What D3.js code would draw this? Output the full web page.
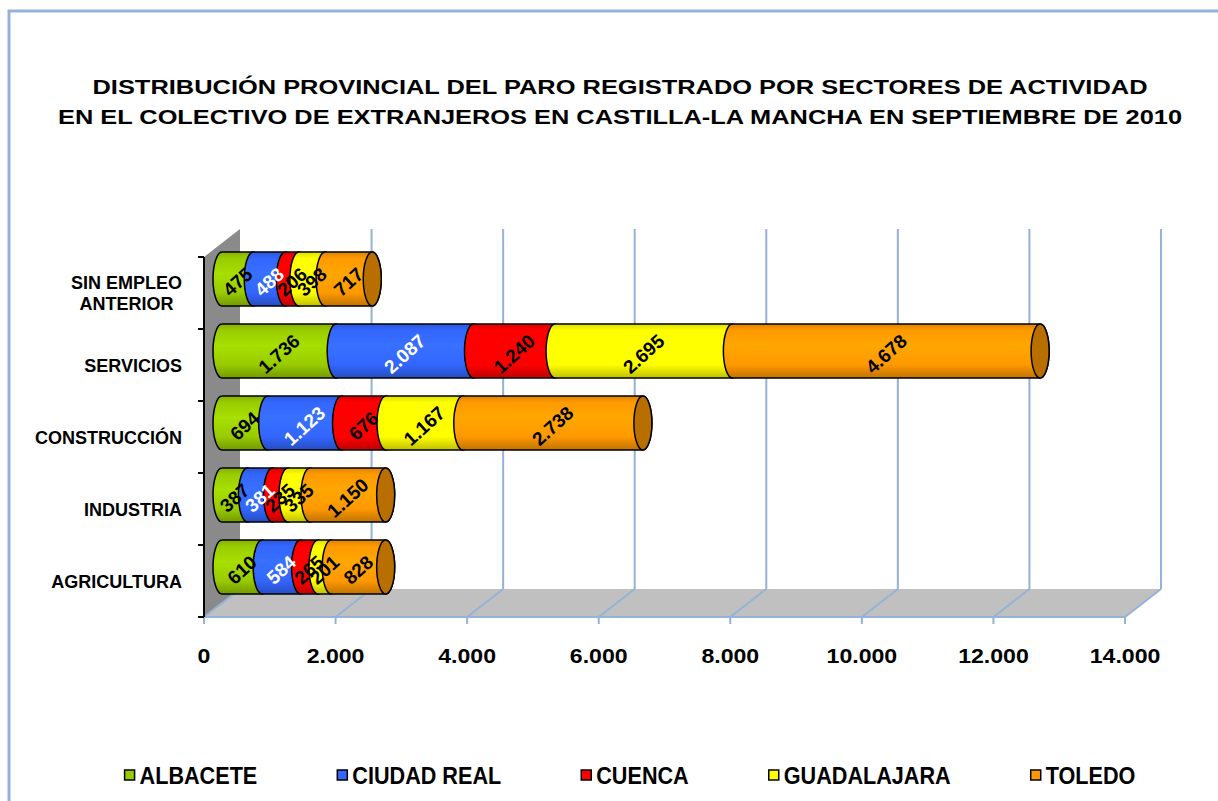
<!DOCTYPE html>
<html>
<head>
<meta charset="utf-8">
<script src="https://cdn.jsdelivr.net/npm/d3@7.9.0/dist/d3.min.js"></script>
<style>
  body { margin: 0; background: #fff; }
  svg { display: block; }
  text { font-family: Arial, "Liberation Sans", sans-serif; font-weight: bold; fill: #000; }
</style>
</head>
<body>
<svg id="chart" width="1218" height="801"></svg>
<script>
const categories = ['SIN EMPLEO\nANTERIOR', 'SERVICIOS', 'CONSTRUCCIÓN', 'INDUSTRIA', 'AGRICULTURA'];
const provinces = ['ALBACETE', 'CIUDAD REAL', 'CUENCA', 'GUADALAJARA', 'TOLEDO'];

const albacete    = [475, 1736, 694, 387, 610];
const ciudadReal  = [488, 2087, 1123, 381, 584];
const cuenca      = [206, 1240, 676, 235, 265];
const guadalajara = [398, 2695, 1167, 335, 201];
const toledo      = [717, 4678, 2738, 1150, 828];

const xTicks = [0, 2000, 4000, 6000, 8000, 10000, 12000, 14000];
const titleLines = [
  'DISTRIBUCIÓN PROVINCIAL DEL PARO REGISTRADO POR SECTORES DE ACTIVIDAD',
  'EN EL COLECTIVO DE EXTRANJEROS EN CASTILLA-LA MANCHA EN SEPTIEMBRE DE 2010'
];

const colors = ['#99cc00', '#3366ff', '#ff0000', '#ffff00', '#ff9900'];
const labelColors = ['#000', '#fff', '#000', '#000', '#000'];

// table for d3.stack
const rows = categories.map((c, i) => ({
  cat: c,
  'ALBACETE': albacete[i],
  'CIUDAD REAL': ciudadReal[i],
  'CUENCA': cuenca[i],
  'GUADALAJARA': guadalajara[i],
  'TOLEDO': toledo[i]
}));
const stacked = d3.stack().keys(provinces)(rows);

const svg = d3.select('#chart');
const fmt = d3.formatLocale({ decimal: ',', thousands: '.', grouping: [3], currency: ['', '€'] }).format(',d');

// plot geometry
const yTop = 257, yBottom = 617;
const dx = 36, dy = -28;
const x = d3.scaleLinear().domain([0, 14000]).range([204, 1125]);
const y = d3.scaleBand().domain(categories).range([yTop, yBottom]).padding(0);
const rx = 9, ry = 27;
const grid = '#95b3d7';

// outer frame
svg.append('path')
  .attr('d', `M9,801 L9,11 L1218,11`)
  .attr('fill', 'none').attr('stroke', grid).attr('stroke-width', 3);

// title
svg.append('g').selectAll('text').data(titleLines).join('text')
  .attr('x', 620).attr('y', (d, i) => 94 + i * 30)
  .attr('text-anchor', 'middle')
  .style('font-size', '21px')
  .attr('textLength', (d, i) => i === 0 ? 1055 : 1124)
  .attr('lengthAdjust', 'spacingAndGlyphs')
  .text(d => d);

// gradients
const defs = svg.append('defs');
colors.forEach((c, i) => {
  const g = defs.append('linearGradient').attr('id', 'grad' + i)
    .attr('x1', 0).attr('y1', 0).attr('x2', 0).attr('y2', 1);
  const base = d3.color(c);
  [[0, base.darker(0.4)], [0.12, base], [0.4, base.brighter(0.25)], [0.75, base], [1, base.darker(0.8)]]
    .forEach(([o, col]) => g.append('stop').attr('offset', o).attr('stop-color', col));
});

// floor and wall
const x0 = x(0), xEnd = x(14000);
svg.append('path')
  .attr('d', `M${x0},${yBottom} L${xEnd},${yBottom} L${xEnd + dx},${yBottom + dy} L${x0 + dx},${yBottom + dy} Z`)
  .attr('fill', '#c0c0c0');
svg.append('path')
  .attr('d', `M${x0},${yTop} L${x0 + dx},${yTop + dy} L${x0 + dx},${yBottom + dy} L${x0},${yBottom} Z`)
  .attr('fill', '#8a8a8a');

// gridlines
const gl = svg.append('g').attr('stroke', grid).attr('stroke-width', 2).attr('fill', 'none');
xTicks.forEach(t => {
  const xf = x(t);
  if (t > 0) gl.append('line').attr('x1', xf + dx).attr('x2', xf + dx).attr('y1', yTop + dy).attr('y2', yBottom + dy);
  gl.append('line').attr('x1', xf).attr('y1', yBottom).attr('x2', xf + dx).attr('y2', yBottom + dy);
  gl.append('line').attr('x1', xf).attr('x2', xf).attr('y1', yBottom).attr('y2', yBottom + 7);
});
gl.append('line').attr('x1', x0).attr('x2', xEnd).attr('y1', yBottom).attr('y2', yBottom);

// left axis
const ax = svg.append('g').attr('stroke', '#000').attr('stroke-width', 2);
ax.append('line').attr('x1', x0).attr('x2', x0).attr('y1', yTop).attr('y2', yBottom);
[...categories.map(c => y(c)), yBottom].forEach(v =>
  ax.append('line').attr('x1', x0 - 6).attr('x2', x0).attr('y1', v).attr('y2', v));

// x tick labels
svg.append('g').selectAll('text').data(xTicks).join('text')
  .attr('transform', d => `translate(${x(d)},663) scale(1.1,1)`)
  .attr('text-anchor', 'middle')
  .style('font-size', '21px')
  .text(d => fmt(d));

// category labels
categories.forEach(c => {
  const lines = c.split('\n');
  const cy = y(c) + y.bandwidth() / 2;
  const t = svg.append('text').style('font-size', '18px').attr('text-anchor', 'middle');
  lines.forEach(ln => t.append('tspan').text(ln));
  let maxW = 0;
  t.selectAll('tspan').each(function () { maxW = Math.max(maxW, this.getComputedTextLength()); });
  const cx = 182 - maxW / 2;
  t.selectAll('tspan')
    .attr('x', cx)
    .attr('y', (d, i) => cy + 6.5 + (i - (lines.length - 1) / 2) * 21);
});

// cylinders
const bars = svg.append('g');
categories.forEach((c, ci) => {
  const cy = y(c) + y.bandwidth() / 2 + dy / 2;
  stacked.forEach((s, si) => {
    const [v0, v1] = s[ci];
    const xa = x(v0) + dx / 2, xb = x(v1) + dx / 2;
    bars.append('path')
      .attr('d', `M${xa},${cy - ry} L${xb},${cy - ry} A${rx},${ry} 0 0 1 ${xb},${cy + ry} L${xa},${cy + ry} A${rx},${ry} 0 0 1 ${xa},${cy - ry} Z`)
      .attr('fill', `url(#grad${si})`)
      .attr('stroke', '#000').attr('stroke-width', 1.5);
    if (si === stacked.length - 1) {
      bars.append('ellipse')
        .attr('cx', xb).attr('cy', cy).attr('rx', rx).attr('ry', ry)
        .attr('fill', d3.color(colors[si]).darker(0.9))
        .attr('stroke', '#000').attr('stroke-width', 1.5);
    }
  });
  stacked.forEach((s, si) => {
    const [v0, v1] = s[ci];
    const xm = (x(v0) + x(v1)) / 2 + dx / 2;
    bars.append('text')
      .attr('transform', `translate(${xm},${cy + 3}) rotate(-42)`)
      .attr('text-anchor', 'middle')
      .attr('dominant-baseline', 'central')
      .style('font-size', '19px')
      .style('fill', labelColors[si])
      .text(fmt(s[ci].data[provinces[si]]));
  });
});

// legend
const lg = svg.append('g');
const sx = 0.94;
const items = provinces.map((p, i) => {
  const g = lg.append('g');
  g.append('rect').attr('width', 10).attr('height', 10).attr('y', -5)
    .attr('fill', colors[i]).attr('stroke', '#000').attr('stroke-width', 1.5);
  const t = g.append('text').attr('y', 8.5)
    .style('font-size', '23px')
    .text(p);
  const w = t.node().getComputedTextLength() * sx;
  t.attr('transform', `scale(${sx},1)`).attr('x', 15 / sx);
  return { g, w: 15 + w };
});
const gap = 80;
const total = d3.sum(items, d => d.w) + gap * (items.length - 1);
let cur = 630 - total / 2;
items.forEach(it => {
  it.g.attr('transform', `translate(${cur},775)`);
  cur += it.w + gap;
});
</script>
</body>
</html>
